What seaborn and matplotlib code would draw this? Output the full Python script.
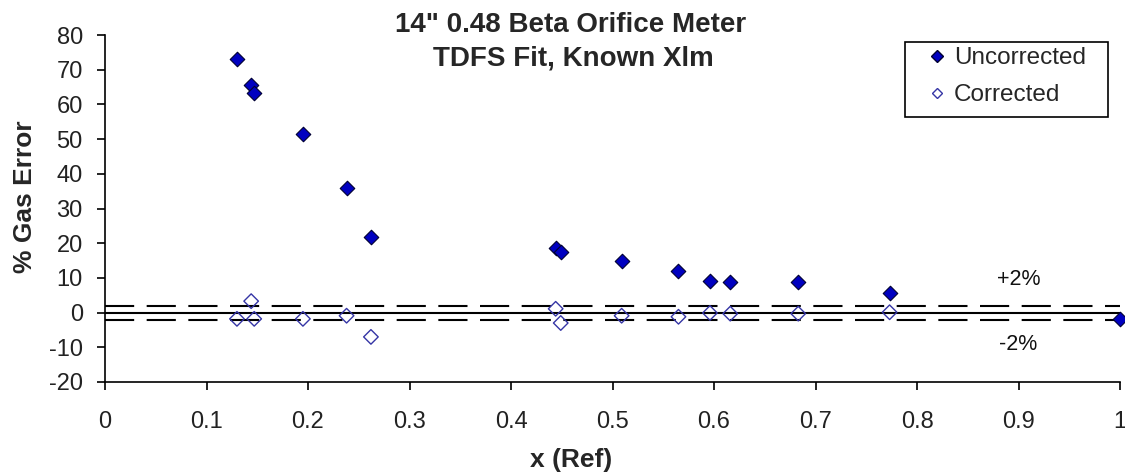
import matplotlib
matplotlib.use("Agg")
import matplotlib.pyplot as plt
import seaborn as sns
import numpy as np
import pandas as pd
from matplotlib.lines import Line2D
from matplotlib.patches import Rectangle

# Data
x_ref = [0.130, 0.144, 0.147, 0.195, 0.238, 0.262, 0.444, 0.449, 0.509,
         0.565, 0.596, 0.616, 0.683, 0.773, 1.000]
uncorrected = [73.0, 65.5, 63.4, 51.5, 36.0, 21.8, 18.7, 17.4, 15.0,
               12.1, 9.0, 8.7, 8.7, 5.7, -1.8]
x_corr = [0.130, 0.144, 0.147, 0.195, 0.238, 0.262, 0.444, 0.449, 0.509,
          0.565, 0.596, 0.616, 0.683, 0.773]
corrected = [-1.8, 3.3, -1.8, -1.8, -0.9, -7.0, 1.1, -3.0, -0.9,
             -1.2, -0.1, -0.3, -0.3, 0.1]
band_levels = [2, -2]
band_labels = ["+2%", "-2%"]
x_ticks = [0, 0.1, 0.2, 0.3, 0.4, 0.5, 0.6, 0.7, 0.8, 0.9, 1]
x_ticklabels = ["0", "0.1", "0.2", "0.3", "0.4", "0.5", "0.6", "0.7", "0.8", "0.9", "1"]
y_ticks = [-20, -10, 0, 10, 20, 30, 40, 50, 60, 70, 80]

sns.set_theme(style="white")
plt.rcParams['font.family'] = ['Liberation Sans', 'DejaVu Sans']
plt.rcParams['axes.unicode_minus'] = False

W, H = 1125, 475
fig = plt.figure(figsize=(W / 100, H / 100), dpi=100)
ax = fig.add_axes([105 / W, 1 - 382 / H, 1015 / W, 347 / H])

# reference lines
ax.axhline(0, color="black", lw=1.5, zorder=1)
for lvl in band_levels:
    ax.axhline(lvl, color="black", lw=1.5, linestyle=(0, (14, 6)), zorder=1)

df_u = pd.DataFrame({"x": x_ref, "y": uncorrected})
df_c = pd.DataFrame({"x": x_corr, "y": corrected})

sns.scatterplot(data=df_u, x="x", y="y", ax=ax, marker="D", s=55,
                color="#0000C0", edgecolor="#000033", linewidth=0.8,
                zorder=3, clip_on=False, legend=False)
sns.scatterplot(data=df_c, x="x", y="y", ax=ax, marker="D", s=55,
                facecolor="none", edgecolor="#3535A5", linewidth=1.0,
                zorder=4, clip_on=False, legend=False)

ax.text(0.90, 9.5, band_labels[0], ha="center", va="center", fontsize=15.5, color="#111111")
ax.text(0.90, -9.3, band_labels[1], ha="center", va="center", fontsize=15.5, color="#111111")

ax.set_xlim(0, 1)
ax.set_ylim(-20, 80)
ax.set_xticks(x_ticks)
ax.set_xticklabels(x_ticklabels)
ax.set_yticks(y_ticks)
ax.tick_params(axis="both", direction="out", length=6, width=1.2, color="black",
               labelsize=17, labelcolor="#222222", bottom=True, left=True)
ax.tick_params(axis="x", pad=15)
ax.tick_params(axis="y", pad=10)
for s in ["top", "right"]:
    ax.spines[s].set_visible(False)
for s in ["left", "bottom"]:
    ax.spines[s].set_color("black")
    ax.spines[s].set_linewidth(1.2)

ax.set_xlabel("x (Ref)", fontsize=19, fontweight="bold")
ax.set_ylabel("% Gas Error", fontsize=19, fontweight="bold")
ax.xaxis.set_label_coords((571 - 105) / 1015, (382 - 460) / 347)
ax.xaxis.label.set_verticalalignment("center")
ax.yaxis.set_label_coords((25 - 105) / 1015, (382 - 197) / 347)
ax.yaxis.label.set_verticalalignment("center")

fig.text(571 / W, 1 - 32 / H, "14\" 0.48 Beta Orifice Meter", ha="center", va="baseline",
         fontsize=20, fontweight="bold")
fig.text(573 / W, 1 - 65 / H, "TDFS Fit, Known Xlm", ha="center", va="baseline",
         fontsize=20, fontweight="bold")

handles = [
    Line2D([], [], marker="D", linestyle="none", markersize=6.5,
           markerfacecolor="#0000C0", markeredgecolor="#000033"),
    Line2D([], [], marker="D", linestyle="none", markersize=5.5,
           markerfacecolor="none", markeredgecolor="#3535A5"),
]
leg = fig.legend(handles, ["Uncorrected", "Corrected"], loc="upper left",
                 bbox_to_anchor=(925 / W, 1 - 47 / H), fontsize=17.5, frameon=False,
                 handletextpad=0.2, handlelength=1.0, borderpad=0.0,
                 labelspacing=0.62, borderaxespad=0)
fig.patches.append(Rectangle((905 / W, 1 - 117 / H), 203 / W, 75 / H,
                             transform=fig.transFigure, fill=False,
                             edgecolor="black", linewidth=1.2))

fig.savefig("out.png", dpi=100)
